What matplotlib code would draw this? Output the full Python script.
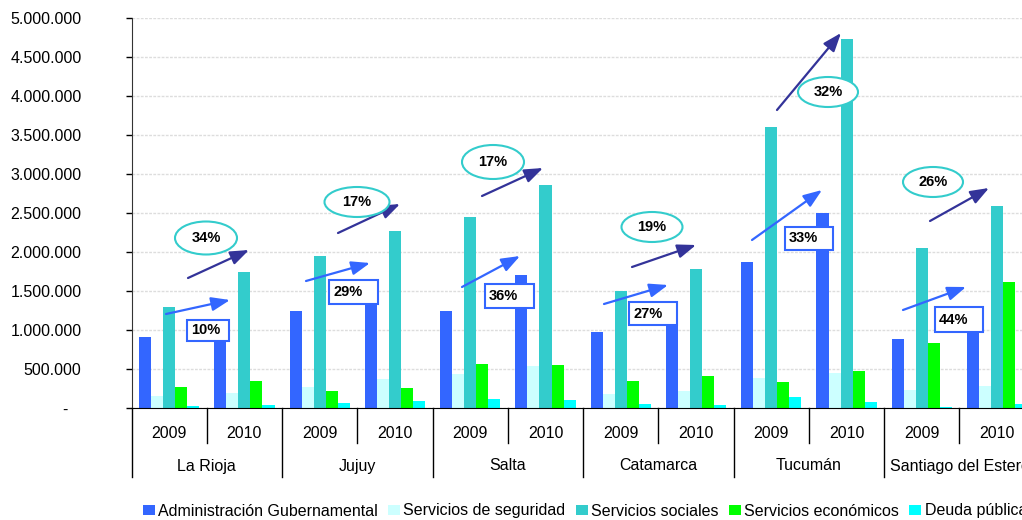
import matplotlib
matplotlib.use("Agg")
import matplotlib.pyplot as plt
from matplotlib.patches import Patch, Ellipse, Rectangle, FancyArrowPatch
from matplotlib.ticker import FuncFormatter, MultipleLocator
import numpy as np

# ---------------- data ----------------
regions = ['La Rioja', 'Jujuy', 'Salta', 'Catamarca', 'Tucumán', 'Santiago del Estero']
years = ['2009', '2010']
series_names = ['Administración Gubernamental', 'Servicios de seguridad', 'Servicios sociales',
                'Servicios económicos', 'Deuda pública']
admin = [915000, 1005000, 1245000, 1605000, 1245000, 1700000, 975000, 1240000, 1870000, 2500000, 885000, 1275000]
seguridad = [155000, 190000, 270000, 372000, 436000, 538000, 180000, 218000, 388000, 449000, 231000, 282000]
sociales = [1295000, 1745000, 1950000, 2270000, 2450000, 2860000, 1500000, 1782000, 3603000, 4735000, 2051000, 2590000]
economicos = [270000, 346000, 218000, 256000, 564000, 551000, 346000, 410000, 333000, 474000, 833000, 1615000]
deuda = [26000, 38000, 68000, 90000, 115000, 103000, 51000, 38000, 141000, 77000, 10000, 50000]
growth_sociales = ['34%', '17%', '17%', '19%', '32%', '26%']
growth_admin = ['10%', '29%', '36%', '27%', '33%', '44%']

# ---------------- style ----------------
colors = ['#3366FF', '#CCFFFF', '#33CCCC', '#00FF00', '#00FFFF']
W, H = 1022, 520
FONT = 'Liberation Sans'
FS = 11.5

plt.rcParams['font.family'] = [FONT, 'DejaVu Sans']

fig = plt.figure(figsize=(W / 100, H / 100), dpi=100)
ax_left, ax_right, ax_top, ax_bot = 131.5, 131.5 + 12 * 75.27, 18, 408
ax = fig.add_axes([ax_left / W, 1 - ax_bot / H, (ax_right - ax_left) / W, (ax_bot - ax_top) / H])

all_series = [admin, seguridad, sociales, economicos, deuda]
n_cat = len(regions) * len(years)
x = np.arange(n_cat)
bw = 0.16
for k, vals in enumerate(all_series):
    ax.bar(x - 0.4 + bw * (k + 0.5), vals, width=bw, color=colors[k], zorder=2, linewidth=0)

ax.set_xlim(-0.5, n_cat - 0.5)
ax.set_ylim(0, 5000000)
ax.yaxis.set_major_locator(MultipleLocator(500000))


def fmt(v, pos):
    if abs(v) < 1:
        return '-   '
    return '{:,.0f}'.format(v).replace(',', '.')


ax.yaxis.set_major_formatter(FuncFormatter(fmt))
ax.tick_params(axis='y', direction='out', length=4, width=1, pad=32, labelsize=FS, colors='black')
ax.grid(axis='y', color='#DDDDDD', linewidth=1, linestyle=(0, (2, 1)), zorder=0)
ax.set_axisbelow(True)
ax.set_xticks([])
for s in ['top', 'right']:
    ax.spines[s].set_visible(False)
ax.spines['left'].set_color('#333333')
ax.spines['bottom'].set_color('black')

# multi-level category axis
tr = ax.get_xaxis_transform()
def yfrac(py):
    return (ax_bot - py) / (ax_bot - ax_top)

for i in range(n_cat):
    ax.text(i, yfrac(433), years[i % 2], transform=tr, ha='center', va='center', fontsize=FS, clip_on=False)
for i in range(n_cat + 1):
    y_end = yfrac(477) if i % 2 == 0 else yfrac(443)
    ax.plot([i - 0.5, i - 0.5], [0, y_end], transform=tr, color='black', lw=1, clip_on=False)
for g, name in enumerate(regions):
    ax.text(2 * g + 0.5, yfrac(466), name, transform=tr, ha='center', va='center', fontsize=FS, clip_on=False)

# ---------------- annotations (pixel layout) ----------------
def fp(px, py):
    return (px / W, 1 - py / H)

navy_arrows = [((188, 278), (249, 250)), ((338, 233), (400, 204)), ((482, 196), (543, 168)),
               ((632, 267), (696, 245)), ((777, 110), (841, 33)), ((930, 221), (989, 188))]
ellipses = [(206, 238, 62, 33), (357, 202, 65, 30), (493, 162, 62, 34),
            (652, 227, 61, 30), (828, 92, 60, 30), (933, 182, 60, 30)]
blue_arrows = [((166, 314), (230, 300)), ((306, 281), (370, 263)), ((462, 287), (520, 256)),
               ((604, 304), (668, 285)), ((752, 240), (822, 190)), ((903, 310), (966, 287))]
boxes = [(187, 320, 229, 341), (329, 280, 378, 304), (485, 284, 534, 308),
         (629, 302, 677, 325), (785, 227, 833, 250), (935, 307, 983, 332)]

astyle = '-|>,head_length=0.8,head_width=0.3'
for (a, b) in navy_arrows:
    fig.add_artist(FancyArrowPatch(fp(*a), fp(*b), transform=fig.transFigure, arrowstyle=astyle,
                                   mutation_scale=14, color='#333399', lw=1.6, shrinkA=0, shrinkB=0, zorder=5))
for (a, b) in blue_arrows:
    fig.add_artist(FancyArrowPatch(fp(*a), fp(*b), transform=fig.transFigure, arrowstyle=astyle,
                                   mutation_scale=14, color='#3366FF', lw=1.6, shrinkA=0, shrinkB=0, zorder=5))
for (cx, cy, w, h), lab in zip(ellipses, growth_sociales):
    fig.add_artist(Ellipse(fp(cx, cy), w / W, h / H, transform=fig.transFigure, facecolor='white',
                           edgecolor='#33CCCC', lw=1.5, zorder=6))
    fig.text(*fp(cx, cy), lab, ha='center', va='center', fontsize=10.5, fontweight='bold', zorder=7)
for (x0, y0, x1, y1), lab in zip(boxes, growth_admin):
    fig.add_artist(Rectangle(fp(x0, y1), (x1 - x0) / W, (y1 - y0) / H, transform=fig.transFigure,
                             facecolor='white', edgecolor='#3366FF', lw=1.5, zorder=6))
    fig.text(*fp(x0 + 4, (y0 + y1) / 2), lab, ha='left', va='center', fontsize=10.5, fontweight='bold', zorder=7)

# ---------------- legend ----------------
handles = [Patch(facecolor=c, edgecolor='none') for c in colors]
fig.legend(handles, series_names, loc='center left', bbox_to_anchor=fp(143, 511), ncol=5, frameon=False,
           fontsize=FS, handlelength=0.75, handleheight=0.6, handletextpad=0.2, columnspacing=0.65,
           borderpad=0, borderaxespad=0)

fig.savefig('out.png', dpi=100)
